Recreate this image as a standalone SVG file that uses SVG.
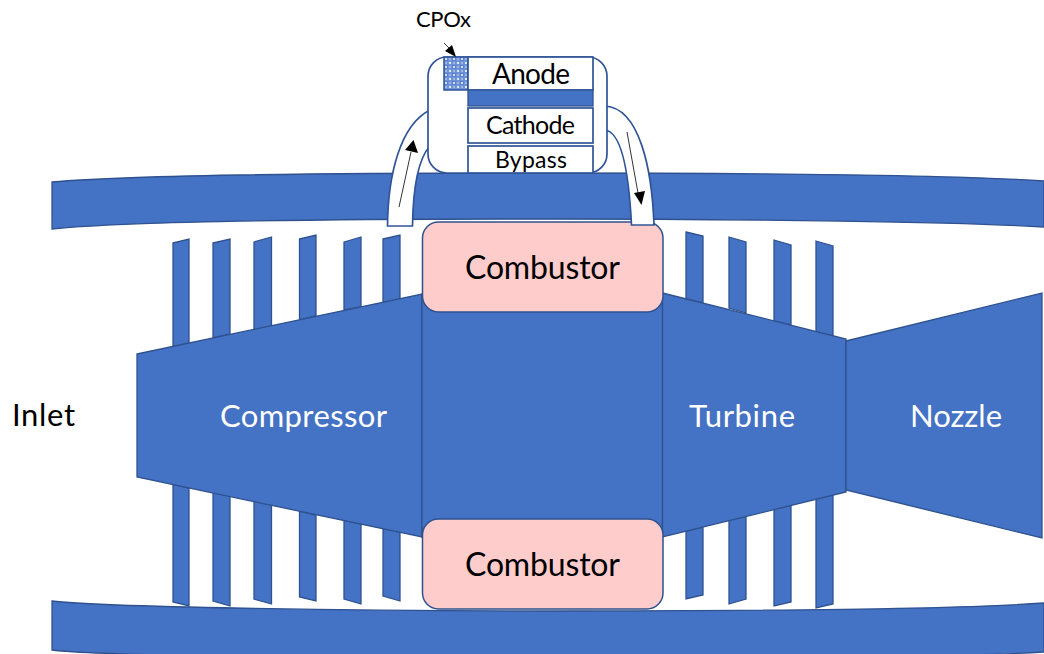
<svg xmlns="http://www.w3.org/2000/svg" width="1044" height="654" viewBox="0 0 1044 654">
<style>
.b{fill:#4472C4;stroke:#2F528F;stroke-width:1.3}
.p{fill:#FFCCCC;stroke:#2F528F;stroke-width:1.5}
.w{fill:#fff;stroke:#2F5597;stroke-width:1.7}
.a{stroke:#000;stroke-width:.8;fill:none}
.h{fill:#000;stroke:none}
text{font-family:Lato,"Liberation Sans",sans-serif}
.wt{fill:#fff;font-size:31px}
.k{fill:#000}
</style>
<defs>
<pattern id="dots" width="8" height="8" patternUnits="userSpaceOnUse" x="444" y="57">
<rect width="8" height="8" fill="#6F93D6"/>
<rect width="4" height="4" x="0" y="0" fill="#5B82CE"/>
<circle cx="2" cy="2" r="1" fill="#fff"/>
<circle cx="6" cy="6" r="1.1" fill="#fff"/>
<circle cx="6" cy="2" r=".8" fill="#D5E0F3"/>
<circle cx="2" cy="6" r=".8" fill="#D5E0F3"/>
</pattern>
</defs>
<rect width="1044" height="654" fill="#fff"/>
<g id="casing-top"><path class="b" d="M52 182C130 175 350 173 545 173C750 173 960 175 1044 181L1044 227C960 222 750 219 545 219C350 219 130 221 52 229Z"/></g>
<g id="casing-bottom"><path class="b" d="M52 601C100 607 350 611 545 611C750 611 960 609 1044 603L1044 652C960 657 750 659 545 659C350 659 100 656 52 650Z"/></g>
<g id="compressor-blades">
<path class="b" d="M173 243L189 239V343L173 347Z"/>
<path class="b" d="M213 243L230 239V334L213 338Z"/>
<path class="b" d="M254 242L271.500 237V326L254 330Z"/>
<path class="b" d="M299.500 239L316 235V316L299.500 320Z"/>
<path class="b" d="M344 242L361 237V307L344 310Z"/>
<path class="b" d="M383 239L400 235V299L383 303Z"/>
<path class="b" d="M173 484L189 488V606L173 602Z"/>
<path class="b" d="M213 492L230 496V606L213 601Z"/>
<path class="b" d="M254 501L271.500 505V604L254 599Z"/>
<path class="b" d="M299.500 511L316 515V601L299.500 597Z"/>
<path class="b" d="M344 520L361 524V604L344 599Z"/>
<path class="b" d="M383 528L400 532V601L383 596Z"/>
</g>
<g id="turbine-blades">
<path class="b" d="M686 232L703 236V303L686 299Z"/>
<path class="b" d="M729 237L746 242V313L729 308Z"/>
<path class="b" d="M774 240L791 245V325L774 321Z"/>
<path class="b" d="M816 241L833 246V336L816 332Z"/>
<path class="b" d="M686 531L703 527V595L686 599Z"/>
<path class="b" d="M729 520L746 516V599L729 604Z"/>
<path class="b" d="M774 509L791 505V602L774 606Z"/>
<path class="b" d="M816 498L833 494V604L816 608Z"/>
</g>
<g id="compressor"><path class="b" d="M137 354L422 294V537L137 477Z"/><text class="wt" x="220" y="427" textLength="167">Compressor</text></g>
<g id="core"><rect class="b" x="422" y="294" width="240.500" height="243"/></g>
<g id="turbine"><path class="b" d="M662.500 293L846 339V492L662.500 537Z"/><text class="wt" x="689" y="427" textLength="106">Turbine</text></g>
<g id="nozzle"><path class="b" d="M846 341L1042 293V538L846 490Z"/><text class="wt" x="910" y="427" textLength="92">Nozzle</text></g>
<g id="combustor-top"><rect class="p" x="422.500" y="222" width="240.500" height="90" rx="16"/><text class="k" x="465" y="279" font-size="32" textLength="155">Combustor</text></g>
<g id="combustor-bottom"><rect class="p" x="422.500" y="519" width="240.500" height="90" rx="16"/><text class="k" x="465" y="576" font-size="32" textLength="155">Combustor</text></g>
<g id="inlet"><text class="k" x="12" y="426" font-size="31" textLength="63">Inlet</text></g>
<g id="pipes">
<path class="w" d="M387.500 226C388 175 400 125 430 110L430 146C417 160 413 190 412.500 226Z"/>
<path class="w" d="M605 106C640 108 652 170 654 225L631.500 225C629 175 622 132 605 130Z"/>
</g>
<g id="fuel-cell">
<rect class="w" x="428" y="57" width="179" height="116" rx="19"/>
<rect x="444" y="57" width="24" height="33" fill="url(#dots)" stroke="#2F5597" stroke-width="1.500"/>
<rect class="w" x="468" y="57" width="125" height="33"/>
<rect x="468" y="90" width="125" height="16" fill="#4472C4" stroke="#2F528F" stroke-width="1.300"/>
<rect class="w" x="468" y="108" width="125" height="35"/>
<rect class="w" x="468" y="146" width="125" height="27"/>
<text class="k" x="492" y="84" font-size="28" textLength="78">Anode</text>
<text class="k" x="486" y="134" font-size="25" textLength="89">Cathode</text>
<text class="k" x="495" y="168" font-size="23" textLength="72">Bypass</text>
</g>
<g id="cpox-label"><text class="k" x="416" y="27" font-size="22" textLength="55">CPOx</text></g>
<g id="connectors">
<line class="a" x1="399" y1="207" x2="411" y2="152"/><path class="h" d="M413.500 140L418 153L405 150Z"/>
<line class="a" x1="627" y1="132" x2="638" y2="193"/><path class="h" d="M641.500 205L634 193L645 191Z"/>
<line class="a" x1="444" y1="43" x2="451" y2="50"/><path class="h" d="M456 57L445 51L452 45Z"/>
</g>
</svg>
